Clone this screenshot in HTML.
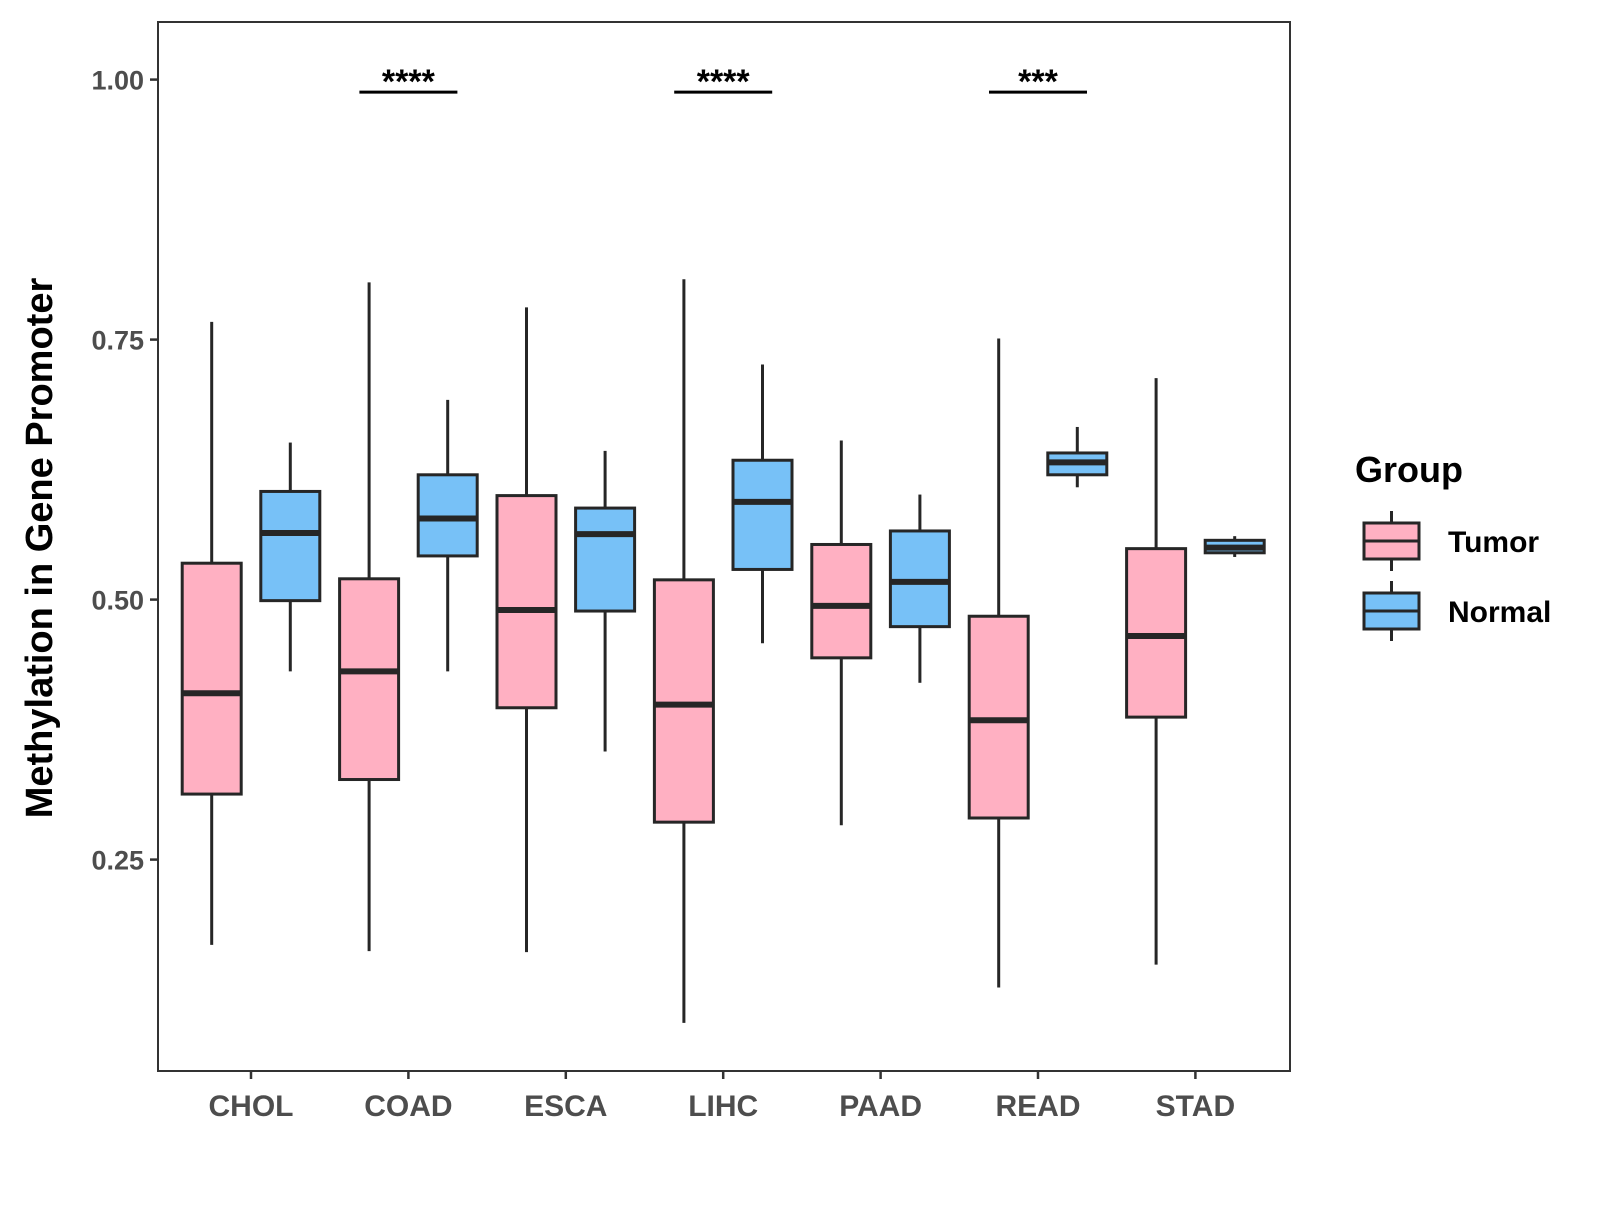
<!DOCTYPE html>
<html><head><meta charset="utf-8"><style>
body{margin:0;background:#fff}
svg text{font-family:"Liberation Sans",Arial,sans-serif;font-weight:bold}
</style></head><body>
<svg id="chart" width="1600" height="1200" xmlns="http://www.w3.org/2000/svg">
<rect width="1600" height="1200" fill="#fff"/>
<g id="plot"></g>
</svg>
<script>
const categories=["CHOL","COAD","ESCA","LIHC","PAAD","READ","STAD"];
// [lower whisker, Q1, median, Q3, upper whisker]
const tumorStats=[[0.168,0.313,0.41,0.535,0.767],[0.162,0.327,0.431,0.52,0.805],[0.161,0.396,0.49,0.6,0.781],[0.093,0.286,0.399,0.519,0.808],[0.283,0.444,0.494,0.553,0.653],[0.127,0.29,0.384,0.484,0.751],[0.149,0.387,0.465,0.549,0.713]];
const normalStats=[[0.431,0.499,0.564,0.604,0.651],[0.431,0.542,0.578,0.62,0.692],[0.354,0.489,0.563,0.588,0.643],[0.458,0.529,0.594,0.634,0.726],[0.42,0.474,0.517,0.566,0.601],[0.608,0.62,0.632,0.641,0.666],[0.541,0.545,0.55,0.557,0.561]];
const yTicks=[0.25,0.5,0.75,1.0];
const yTickLabels=["0.25","0.50","0.75","1.00"];
const sigCats=["COAD","LIHC","READ"];
const sigLabels=["****","****","***"];
const sigLevel=0.988;

const NS="http://www.w3.org/2000/svg";
const g=document.getElementById('plot');
const X0=158,X1=1290,Y0=22,Y1=1071;
function y(v){return 79.6+(1-v)*1040;}
function x(i){return 251+i*157.4;}
function mk(tag,attrs,parent){const e=document.createElementNS(NS,tag);for(const k in attrs)e.setAttribute(k,attrs[k]);(parent||g).appendChild(e);return e;}

const panel=mk('rect',{x:X0,y:Y0,width:X1-X0,height:Y1-Y0,fill:'none',stroke:'#333',"stroke-width":2});



yTicks.forEach((t,i)=>{
  const tk=mk('line',{x1:X0-8,x2:X0,y1:y(t),y2:y(t),stroke:'#333',"stroke-width":2.5});
  
  
  const tl=mk('text',{x:X0-14,y:y(t)+10,"text-anchor":"end","font-size":27,fill:'#4d4d4d'});
  tl.textContent=yTickLabels[i];
  
  
});
categories.forEach((c,i)=>{
  const tk=mk('line',{x1:x(i),x2:x(i),y1:Y1,y2:Y1+8,stroke:'#333',"stroke-width":2.5});
  
  
  const tl=mk('text',{x:x(i),y:Y1+45,"text-anchor":"middle","font-size":30,fill:'#4d4d4d'});
  tl.textContent=c;
  
  
});

function box(cx,s,fill,name){
  const grp=mk('g',{});
  
  
  const w=59;
  const small=(y(s[1])-y(s[3]))<10;
  mk('line',{x1:cx,x2:cx,y1:y(s[4]),y2:y(s[3]),stroke:'#262626',"stroke-width":3},grp);
  mk('line',{x1:cx,x2:cx,y1:y(s[1]),y2:y(s[0]),stroke:'#262626',"stroke-width":3},grp);
  mk('rect',{x:cx-w/2,y:y(s[3]),width:w,height:Math.max(y(s[1])-y(s[3]),0.1),fill:fill,stroke:'#262626',"stroke-width":small?4:3},grp);
  mk('line',{x1:cx-w/2,x2:cx+w/2,y1:y(s[2]),y2:y(s[2]),stroke:'#262626',"stroke-width":6},grp);
}
categories.forEach((c,i)=>{
  box(x(i)-39.3,tumorStats[i],'#FFB0C2','box-tumor-'+c.toLowerCase());
  box(x(i)+39.3,normalStats[i],'#77C1F7','box-normal-'+c.toLowerCase());
});
sigCats.forEach((c,j)=>{
  const i=categories.indexOf(c);
  const l=mk('line',{x1:x(i)-49,x2:x(i)+49,y1:y(sigLevel),y2:y(sigLevel),stroke:'#000',"stroke-width":3});
  
  
  const t=mk('text',{x:x(i),y:y(sigLevel)+1,"text-anchor":"middle","font-size":34,fill:'#000'});
  t.textContent=sigLabels[j];
  
  
});
const yt=mk('text',{x:0,y:0,transform:'translate(52,548) rotate(-90)',"text-anchor":"middle","font-size":38,fill:'#000'});
yt.textContent='Methylation in Gene Promoter';


const lt=mk('text',{x:1355,y:482,"font-size":36,fill:'#000'});
lt.textContent='Group';


[['Tumor','#FFB0C2',523],['Normal','#77C1F7',593]].forEach(d=>{
  const e=mk('g',{});
  
  
  mk('line',{x1:1391.5,x2:1391.5,y1:d[2]-12,y2:d[2]+48,stroke:'#262626',"stroke-width":3},e);
  mk('rect',{x:1364,y:d[2],width:55,height:36,fill:d[1],stroke:'#262626',"stroke-width":3},e);
  mk('line',{x1:1364,x2:1419,y1:d[2]+18,y2:d[2]+18,stroke:'#262626',"stroke-width":3},e);
  const t=mk('text',{x:1448,y:d[2]+29,"font-size":30,fill:'#000'},e);
  t.textContent=d[0];
});
</script>
</body></html>
